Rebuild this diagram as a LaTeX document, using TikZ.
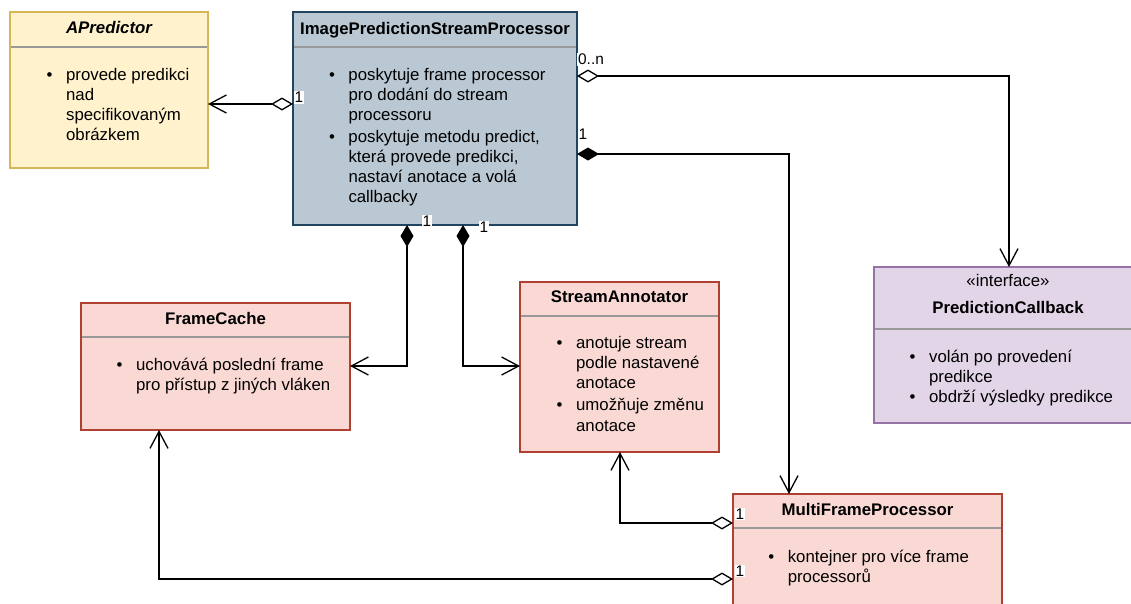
\documentclass[tikz,border=0pt]{standalone}
\usepackage{fontspec}
\setmainfont{Liberation Sans}
\usetikzlibrary{arrows.meta}
\definecolor{yelF}{HTML}{FFF2CC}\definecolor{yelD}{HTML}{D6B656}
\definecolor{bluF}{HTML}{BAC8D3}\definecolor{bluD}{HTML}{23445D}
\definecolor{redF}{HTML}{FAD9D5}\definecolor{redD}{HTML}{AE4132}
\definecolor{purF}{HTML}{E1D5E7}\definecolor{purD}{HTML}{9673A6}
\definecolor{sepG}{HTML}{999999}
\newcommand{\bu}{\makebox[19.5pt][l]{\textbullet}}
\newcommand{\nb}{\hspace*{19.5pt}}
\tikzset{
  cls/.style={draw, line width=1.3pt, rectangle, anchor=north west, inner sep=0pt, outer sep=0pt},
  sepl/.style={draw=sepG, line width=1.3pt},
  ttl/.style={font=\fontsize{16.8}{20.16}\selectfont\bfseries, anchor=base, inner sep=0pt},
  body/.style={font=\fontsize{16.8}{20.16}\selectfont, anchor=base west, inner sep=0pt},
  mult/.style={font=\fontsize{15.4}{18}\selectfont, fill=white, inner sep=0.8pt},
  conn/.style={line width=1.3pt, black},
  aggr/.style={arrows={{Diamond[open,length=22pt,width=13pt]}-{Straight Barb[length=17pt,width=18pt]}}},
  comp/.style={arrows={{Diamond[length=22pt,width=13pt]}-{Straight Barb[length=17pt,width=18pt]}}}
}
\begin{document}
\begin{tikzpicture}[x=1pt,y=-1pt]
\useasboundingbox (0,0) rectangle (1131,603);
\clip (0,0) rectangle (1131,603);
\fill[white] (0,0) rectangle (1131,603);

% boxes
\node[cls, fill=yelF, draw=yelD, minimum width=198pt, minimum height=156pt] (apred) at (10,12) {};
\node[cls, fill=bluF, draw=bluD, minimum width=284pt, minimum height=213pt] (ipsp) at (293,12) {};
\node[cls, fill=redF, draw=redD, minimum width=269pt, minimum height=127pt] (fc) at (81,303) {};
\node[cls, fill=redF, draw=redD, minimum width=199pt, minimum height=170pt] (sa) at (520,282) {};
\node[cls, fill=purF, draw=purD, minimum width=268pt, minimum height=156pt] (pc) at (874,267) {};
\node[cls, fill=redF, draw=redD, minimum width=269pt, minimum height=150pt] (mfp) at (733,494) {};

% separators
\draw[sepl] ([shift={(0.7pt,-35pt)}]apred.north west) -- ([shift={(-0.7pt,-35pt)}]apred.north east);
\draw[sepl] ([shift={(0.7pt,-35pt)}]ipsp.north west) -- ([shift={(-0.7pt,-35pt)}]ipsp.north east);
\draw[sepl] ([shift={(0.7pt,-34pt)}]fc.north west) -- ([shift={(-0.7pt,-34pt)}]fc.north east);
\draw[sepl] ([shift={(0.7pt,-34pt)}]sa.north west) -- ([shift={(-0.7pt,-34pt)}]sa.north east);
\draw[sepl] ([shift={(0.7pt,-62pt)}]pc.north west) -- ([shift={(-0.7pt,-62pt)}]pc.north east);
\draw[sepl] ([shift={(0.7pt,-34pt)}]mfp.north west) -- ([shift={(-0.7pt,-34pt)}]mfp.north east);

% titles
\node[ttl] (apredT) at (109,33.3) {\itshape APredictor};
\node[ttl] (ipspT) at (435,34) {ImagePredictionStreamProcessor};
\node[ttl] (fcT) at (215.5,324) {FrameCache};
\node[ttl] (saT) at (619.5,302) {StreamAnnotator};
\node[ttl, font=\fontsize{16.8}{20.16}\selectfont] (pcS) at (1008,286) {«interface»};
\node[ttl] (pcT) at (1008,313.3) {PredictionCallback};
\node[ttl] (mfpT) at (867.5,515.7) {MultiFrameProcessor};

% bodies
\node[body] (apredB) at (46.4,80) {\begin{tabular}[t]{@{}l@{}}\bu provede predikci\\\nb nad\\\nb specifikovaným\\\nb obrázkem\end{tabular}};
\node[body] (ipspB) at (328.8,80) {\begin{tabular}[t]{@{}l@{}}\bu poskytuje frame processor\\\nb pro dodání do stream\\\nb processoru\\[2pt]\bu poskytuje metodu predict,\\\nb která provede predikci,\\\nb nastaví anotace a volá\\\nb callbacky\end{tabular}};
\node[body] (fcB) at (116.4,370) {\begin{tabular}[t]{@{}l@{}}\bu uchovává poslední frame\\\nb pro přístup z jiných vláken\end{tabular}};
\node[body] (saB) at (556.4,348.5) {\begin{tabular}[t]{@{}l@{}}\bu anotuje stream\\\nb podle nastavené\\\nb anotace\\[2pt]\bu umožňuje změnu\\\nb anotace\end{tabular}};
\node[body] (pcB) at (909.4,362.5) {\begin{tabular}[t]{@{}l@{}}\bu volán po provedení\\\nb predikce\\\bu obdrží výsledky predikce\end{tabular}};
\node[body] (mfpB) at (768.1,562.5) {\begin{tabular}[t]{@{}l@{}}\bu kontejner pro více frame\\\nb processorů\end{tabular}};

% connectors
\draw[conn, aggr] ([yshift=-92pt]ipsp.north west) -- ([yshift=-92pt]apred.north east);
\draw[conn, aggr] ([yshift=-64pt]ipsp.north east) -| ([xshift=135pt]pc.north west);
\draw[conn, comp] ([yshift=-142pt]ipsp.north east) -| ([xshift=56pt]mfp.north west);
\draw[conn, comp] ([xshift=114pt]ipsp.south west) |- ([yshift=-63pt]fc.north east);
\draw[conn, comp] ([xshift=170pt]ipsp.south west) |- ([yshift=-84pt]sa.north west);
\draw[conn, aggr] ([yshift=-29pt]mfp.north west) -| ([xshift=100pt]sa.south west);
\draw[conn, aggr] ([yshift=-85pt]mfp.north west) -| ([xshift=78pt]fc.south west);

% multiplicities
\node[mult] (m1) at (299,97.5) {1};
\node[mult] (m2) at (591,59.5) {0..n};
\node[mult] (m3) at (583,134) {1};
\node[mult] (m4) at (427,221) {1};
\node[mult] (m5) at (484,227) {1};
\node[mult] (m6) at (740,514) {1};
\node[mult] (m7) at (740,571) {1};
\end{tikzpicture}
\end{document}
